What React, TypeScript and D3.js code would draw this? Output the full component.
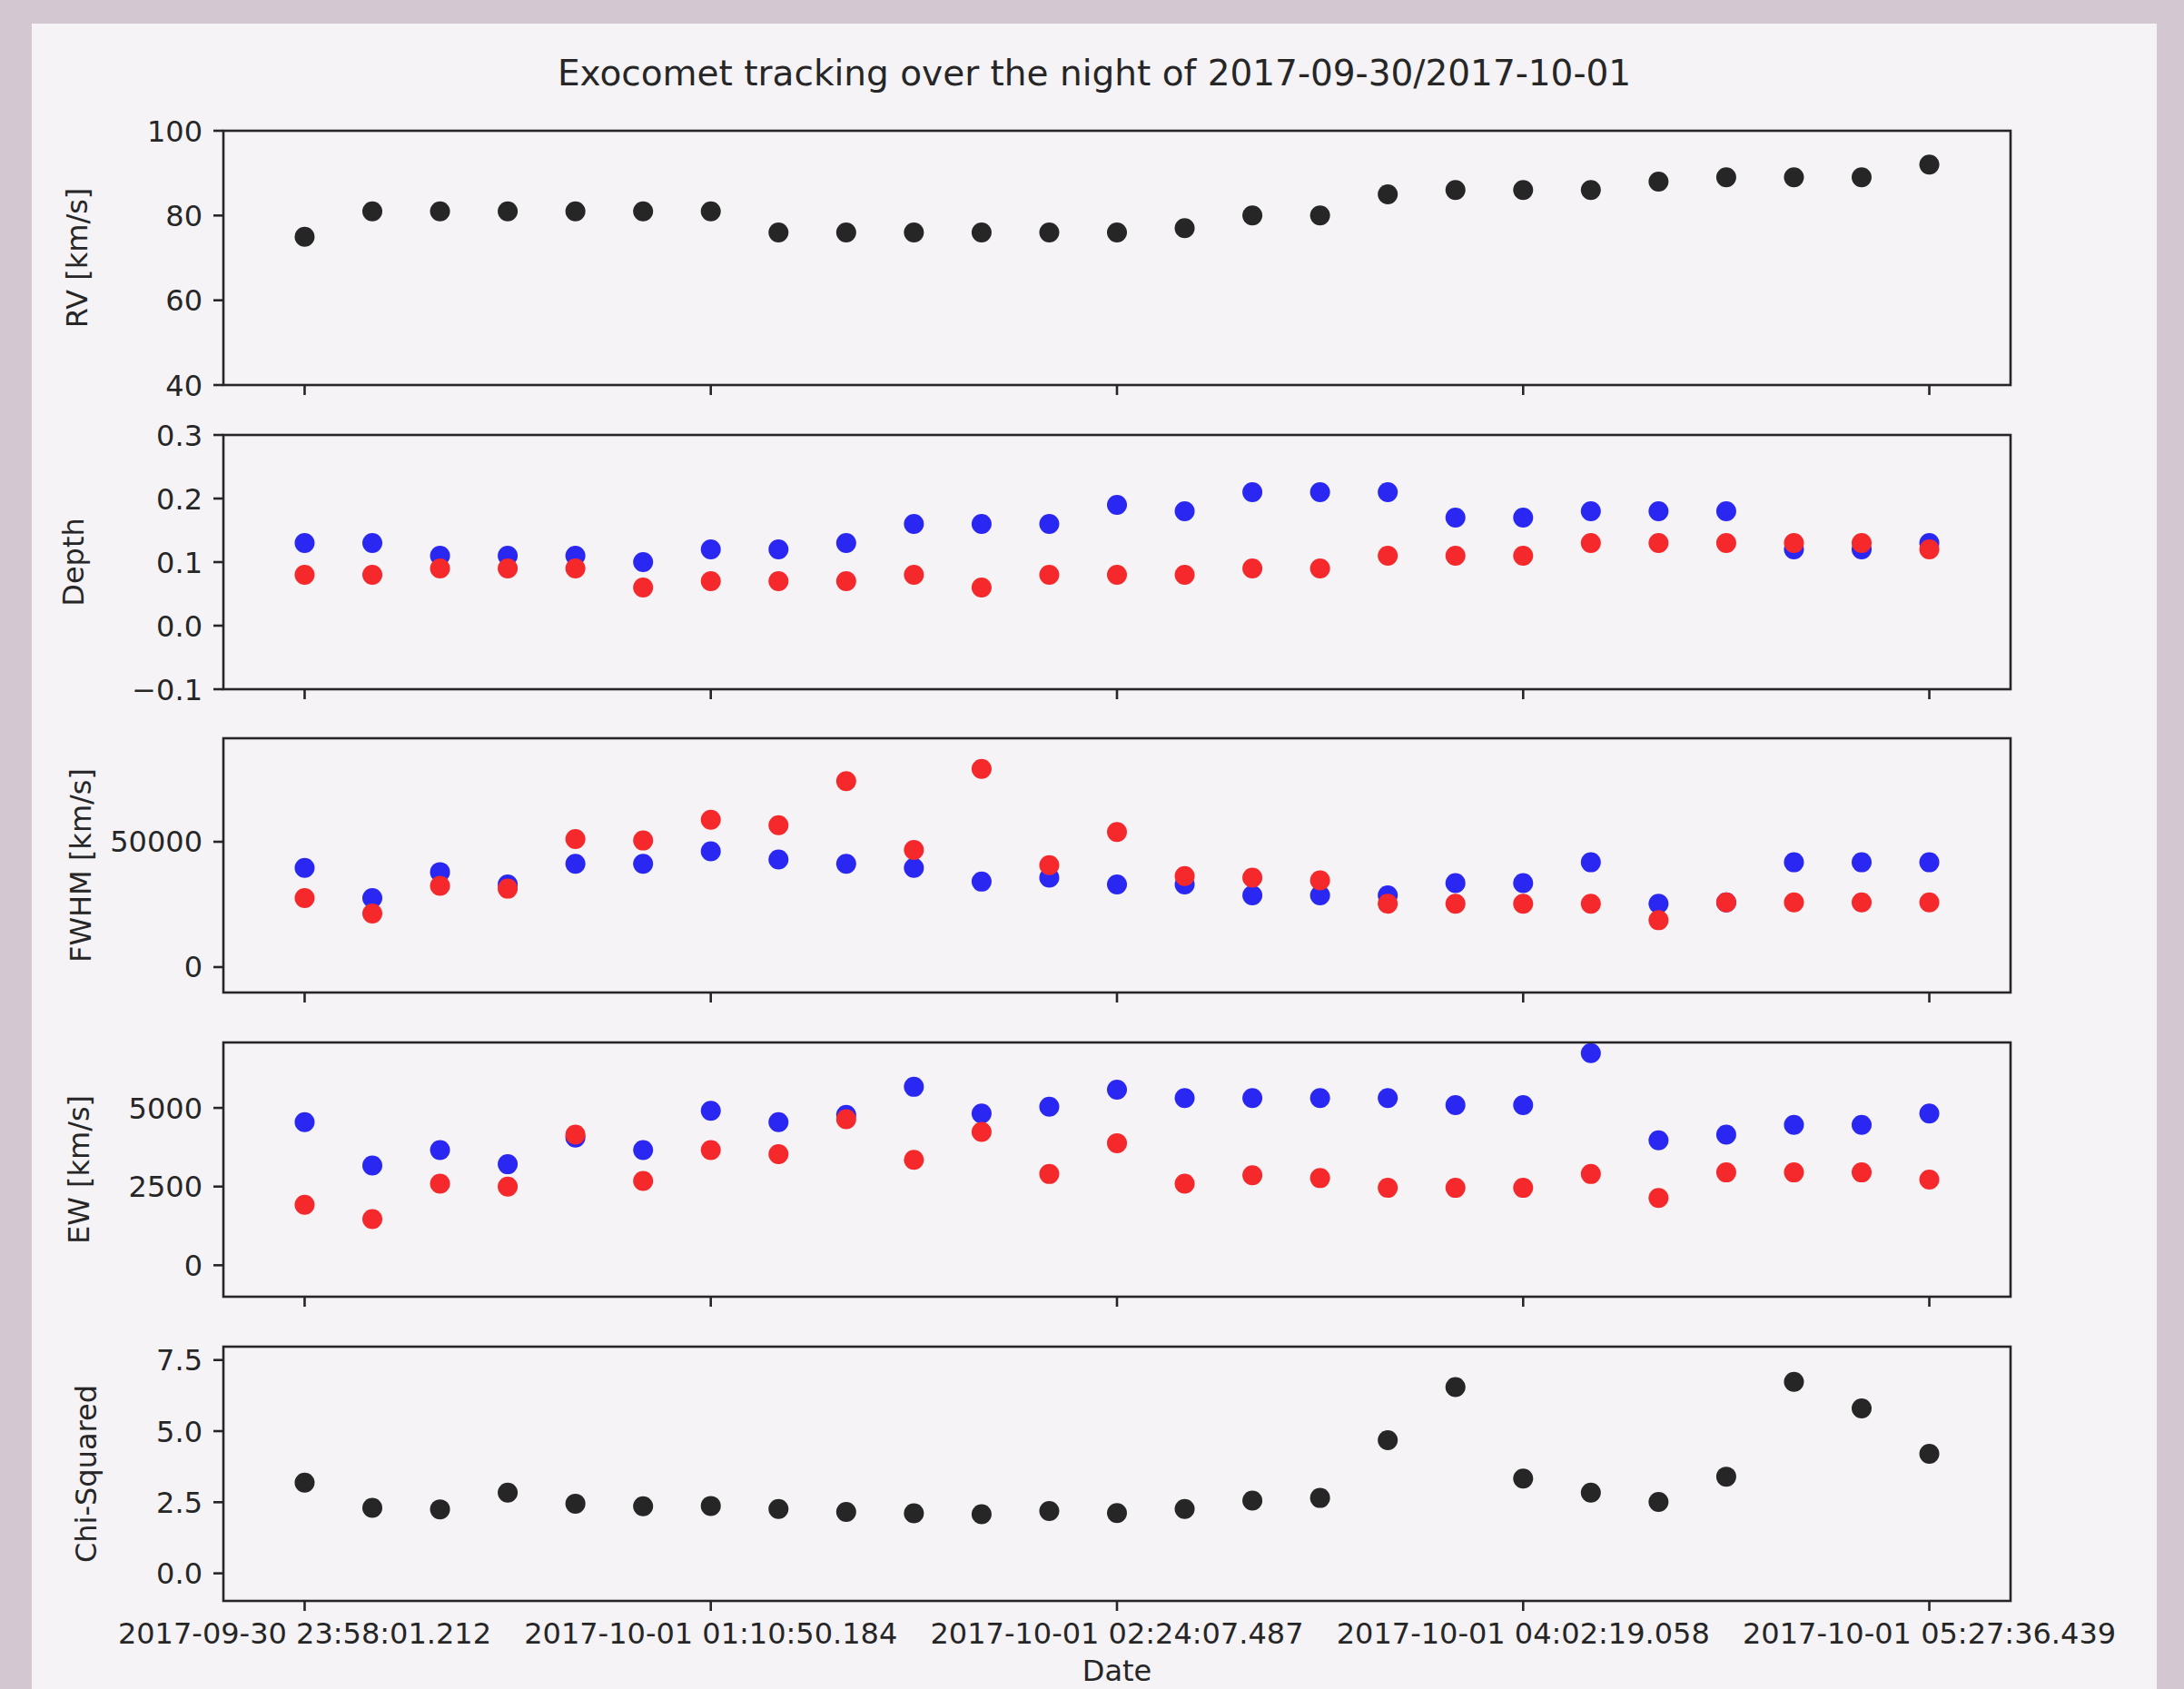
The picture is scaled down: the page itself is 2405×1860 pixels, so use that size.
import React from 'react';
import * as d3 from 'd3';

const W = 2405;
const H = 1860;
const LEFT = 246;
const RIGHT = 2214;
const PANEL_TOPS = [144, 479, 813, 1148, 1483];
const PANEL_H = 280;
const INK = '#262626';
const BLUE = '#2a27f2';
const RED = '#f5282b';
const FONT = 'DejaVu Sans, sans-serif';

const TITLE = 'Exocomet tracking over the night of 2017-09-30/2017-10-01';

const tickIdx = [0, 6, 12, 18, 24];
const tickDates = [
  '2017-09-30 23:58:01.212',
  '2017-10-01 01:10:50.184',
  '2017-10-01 02:24:07.487',
  '2017-10-01 04:02:19.058',
  '2017-10-01 05:27:36.439',
];

// one value per observation, 25 observations
const rv = [75, 81, 81, 81, 81, 81, 81, 76, 76, 76, 76, 76, 76, 77, 80, 80, 85, 86, 86, 86, 88, 89, 89, 89, 92];

const depthBlue = [0.13, 0.13, 0.11, 0.11, 0.11, 0.10, 0.12, 0.12, 0.13, 0.16, 0.16, 0.16, 0.19, 0.18, 0.21, 0.21, 0.21, 0.17, 0.17, 0.18, 0.18, 0.18, 0.12, 0.12, 0.13];
const depthRed = [0.08, 0.08, 0.09, 0.09, 0.09, 0.06, 0.07, 0.07, 0.07, 0.08, 0.06, 0.08, 0.08, 0.08, 0.09, 0.09, 0.11, 0.11, 0.11, 0.13, 0.13, 0.13, 0.13, 0.13, 0.12];

const fwhmBlue = [39600, 27500, 37900, 33000, 41200, 41200, 46200, 42900, 41200, 39600, 34100, 35700, 33000, 33000, 28600, 28600, 28600, 33500, 33500, 41800, 25300, 25800, 41800, 41800, 41800];
const fwhmRed = [27500, 21400, 32400, 31300, 51100, 50500, 58800, 56600, 74200, 46700, 79100, 40700, 53900, 36300, 35700, 34600, 25300, 25300, 25300, 25300, 18700, 25800, 25800, 25800, 25800];

const ewBlue = [4550, 3170, 3660, 3210, 4060, 3660, 4910, 4550, 4780, 5670, 4820, 5040, 5580, 5310, 5310, 5310, 5310, 5090, 5090, 6740, 3970, 4150, 4460, 4460, 4820];
const ewRed = [1920, 1470, 2590, 2500, 4150, 2680, 3660, 3530, 4640, 3350, 4240, 2900, 3880, 2590, 2860, 2770, 2460, 2460, 2460, 2900, 2140, 2950, 2950, 2950, 2720];

const chi = [3.19, 2.30, 2.25, 2.84, 2.45, 2.36, 2.37, 2.26, 2.16, 2.11, 2.08, 2.19, 2.12, 2.26, 2.56, 2.65, 4.68, 6.55, 3.33, 2.84, 2.51, 3.40, 6.73, 5.80, 4.20];

const panels = [
  { label: 'RV [km/s]', labelX: 96, domain: [40, 100], ticks: [40, 60, 80, 100], fmt: (v: number) => String(v), series: [{ values: rv, color: INK }] },
  { label: 'Depth', labelX: 92, domain: [-0.1, 0.3], ticks: [-0.1, 0, 0.1, 0.2, 0.3], fmt: (v: number) => v.toFixed(1).replace('-', '\u2212'), series: [{ values: depthBlue, color: BLUE }, { values: depthRed, color: RED }] },
  { label: 'FWHM [km/s]', labelX: 99.5, domain: [-10150, 91300], ticks: [0, 50000], fmt: (v: number) => String(v), series: [{ values: fwhmBlue, color: BLUE }, { values: fwhmRed, color: RED }] },
  { label: 'EW [km/s]', labelX: 97.5, domain: [-1000, 7080], ticks: [0, 2500, 5000], fmt: (v: number) => String(v), series: [{ values: ewBlue, color: BLUE }, { values: ewRed, color: RED }] },
  { label: 'Chi-Squared', labelX: 106, domain: [-0.97, 7.97], ticks: [0, 2.5, 5, 7.5], fmt: (v: number) => v.toFixed(1), series: [{ values: chi, color: INK }] },
];

export default function App() {
  const x = d3.scaleLinear().domain([-1.2, 25.2]).range([LEFT, RIGHT]);

  return (
    <svg
      width={W}
      height={H}
      viewBox={`0 0 ${W} ${H}`}
      style={{ position: 'absolute', left: 0, top: 0, display: 'block' }}
      fontFamily={FONT}
    >
      <rect x={0} y={0} width={W} height={H} fill="#d3c8d2" />
      <rect x={35} y={26} width={2340} height={H - 26} fill="#f5f3f6" />

      <text x={1205} y={94} textAnchor="middle" fontSize={39} fill={INK}>
        {TITLE}
      </text>

      {panels.map((p, pi) => {
        const top = PANEL_TOPS[pi];
        const y = d3.scaleLinear().domain(p.domain).range([top + PANEL_H, top]);
        const bottom = top + PANEL_H;
        return (
          <g key={pi}>
            {p.series.map((s, si) => (
              <g key={si}>
                {s.values.map((v, i) => (
                  <circle key={i} cx={x(i)} cy={y(v)} r={11} fill={s.color} />
                ))}
              </g>
            ))}
            <rect
              x={LEFT}
              y={top}
              width={RIGHT - LEFT}
              height={PANEL_H}
              fill="none"
              stroke={INK}
              strokeWidth={2.6}
            />
            {p.ticks.map((t) => (
              <g key={t}>
                <line x1={LEFT - 11} x2={LEFT} y1={y(t)} y2={y(t)} stroke={INK} strokeWidth={2.6} />
                <text x={LEFT - 23} y={y(t) + 11.5} textAnchor="end" fontSize={32} fill={INK}>
                  {p.fmt(t)}
                </text>
              </g>
            ))}
            {tickIdx.map((t) => (
              <line key={t} x1={x(t)} x2={x(t)} y1={bottom} y2={bottom + 11} stroke={INK} strokeWidth={2.6} />
            ))}
            <text
              transform={`translate(${p.labelX},${top + PANEL_H / 2}) rotate(-90)`}
              textAnchor="middle"
              fontSize={32}
              fill={INK}
            >
              {p.label}
            </text>
          </g>
        );
      })}

      {tickIdx.map((t, i) => (
        <text key={t} x={x(t)} y={1810} textAnchor="middle" fontSize={32} fill={INK}>
          {tickDates[i]}
        </text>
      ))}
      <text x={(LEFT + RIGHT) / 2} y={1851} textAnchor="middle" fontSize={32} fill={INK}>
        Date
      </text>
    </svg>
  );
}
